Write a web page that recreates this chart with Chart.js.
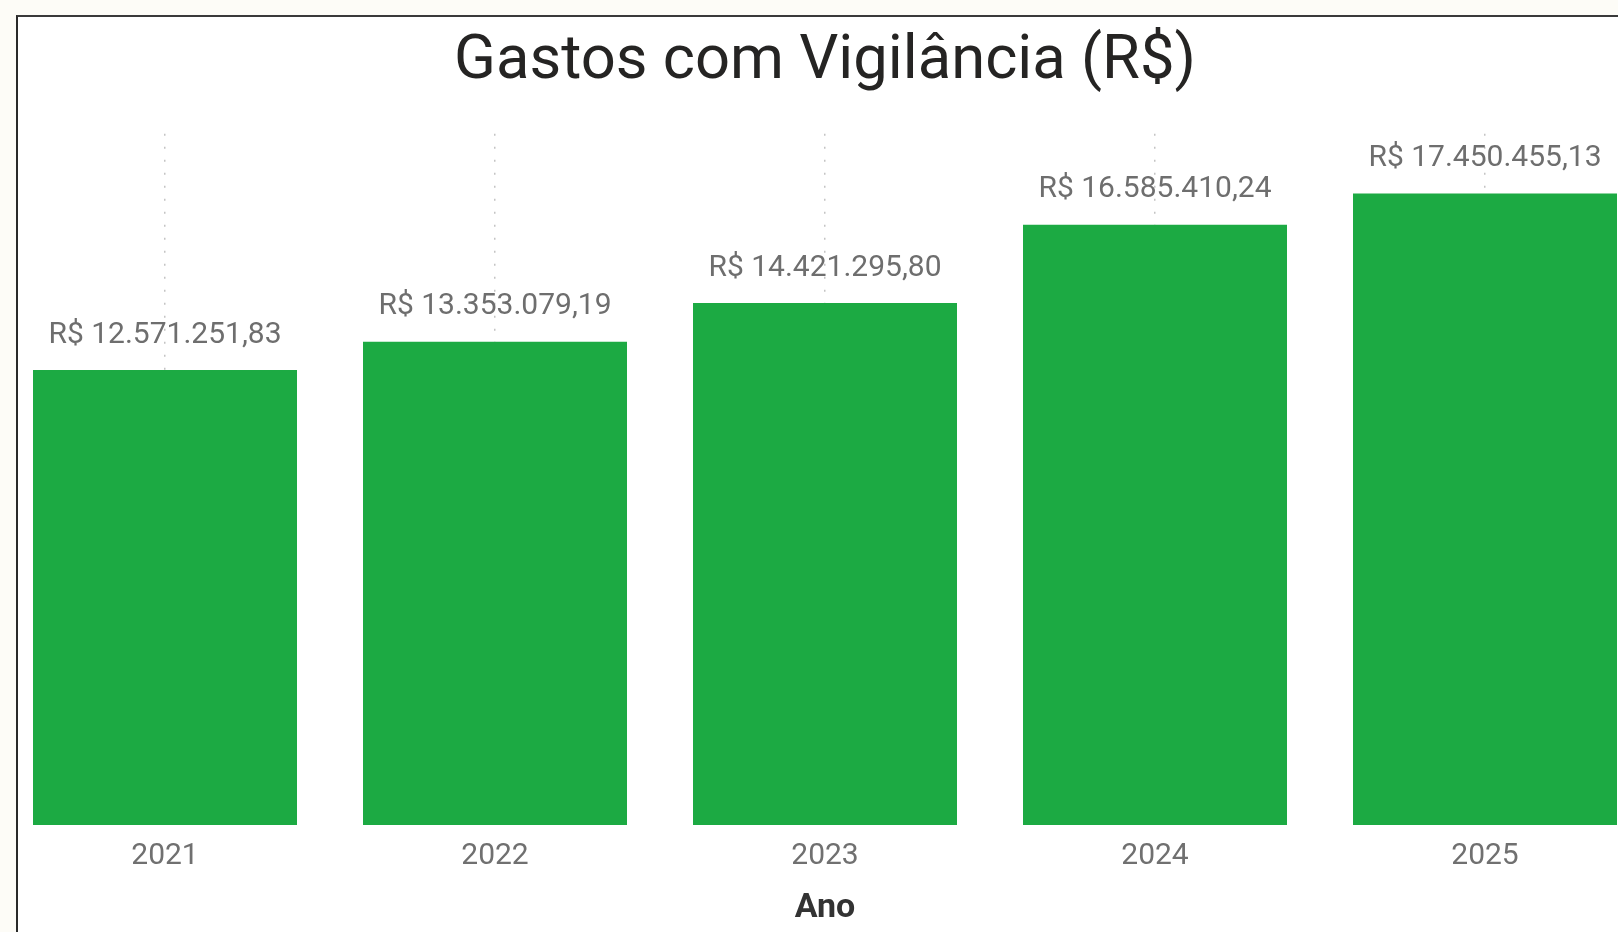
<!DOCTYPE html>
<html lang="pt-BR">
<head>
<meta charset="utf-8">
<title>Gastos com Vigilância (R$)</title>
<script src="https://cdn.jsdelivr.net/npm/chart.js@4/dist/chart.umd.min.js"></script>
<style>
    html, body {
        margin: 0;
        padding: 0;
        width: 1618px;
        height: 932px;
        overflow: hidden;
        background: #fdfcf7;
    }
    .frame {
        position: absolute;
        left: 16px;
        top: 15px;
        width: 1700px;
        height: 1000px;
        background: #ffffff;
        border-left: 2px solid #2a2a2a;
        border-top: 2px solid #3a3a3a;
    }
    #gastosChart {
        position: absolute;
        left: 0;
        top: 0;
    }
</style>
</head>
<body>
<div class="frame"></div>
<canvas id="gastosChart" width="1650" height="932"></canvas>

<script>
// Dados
const anos = ['2021', '2022', '2023', '2024', '2025'];
const gastos = [12571251.83, 13353079.19, 14421295.80, 16585410.24, 17450455.13];

const FONT = 'Roboto, "DejaVu Sans", sans-serif';

const formatBRL = (value) =>
    'R$ ' + value.toLocaleString('pt-BR', { minimumFractionDigits: 2, maximumFractionDigits: 2 });

// Rótulos de valor acima das barras (sem plugin externo)
const valueLabels = {
    id: 'valueLabels',
    afterDatasetsDraw(chart) {
        const { ctx } = chart;
        const meta = chart.getDatasetMeta(0);
        ctx.save();
        ctx.font = `30px ${FONT}`;
        ctx.fillStyle = '#6e6e6e';
        ctx.textAlign = 'center';
        ctx.textBaseline = 'middle';
        meta.data.forEach((bar, i) => {
            ctx.fillText(formatBRL(gastos[i]), bar.x, bar.y - 35);
        });
        ctx.restore();
    },
};

const ctx = document.getElementById('gastosChart').getContext('2d');

new Chart(ctx, {
    type: 'bar',
    data: {
        labels: anos,
        datasets: [
            {
                label: 'Gastos',
                data: gastos,
                backgroundColor: '#1caa43',
                barPercentage: 0.8,
                categoryPercentage: 1.0,
            },
        ],
    },
    options: {
        responsive: false,
        animation: false,
        layout: {
            padding: 0,
        },
        plugins: {
            legend: {
                display: false,
            },
            tooltip: {
                enabled: false,
            },
            title: {
                display: true,
                text: 'Gastos com Vigilância (R$)',
                color: '#252423',
                font: { family: FONT, size: 61.5, weight: 'normal', lineHeight: 1.2 },
                padding: { top: 26, bottom: 34 },
            },
        },
        scales: {
            x: {
                grid: {
                    offset: false,
                    drawTicks: false,
                    color: '#c4c4c4',
                    lineWidth: 1.5,
                },
                border: {
                    display: false,
                    dash: [2, 11],
                },
                ticks: {
                    color: '#707070',
                    padding: 16,
                    font: { family: FONT, size: 30, lineHeight: 1.0 },
                },
                title: {
                    display: true,
                    text: 'Ano',
                    color: '#333333',
                    font: { family: FONT, size: 34, weight: 'bold', lineHeight: 1.0 },
                    padding: { top: 4, bottom: 7 },
                },
            },
            y: {
                display: false,
                min: 0,
                max: 19100000,
            },
        },
    },
    plugins: [valueLabels],
});
</script>
</body>
</html>
